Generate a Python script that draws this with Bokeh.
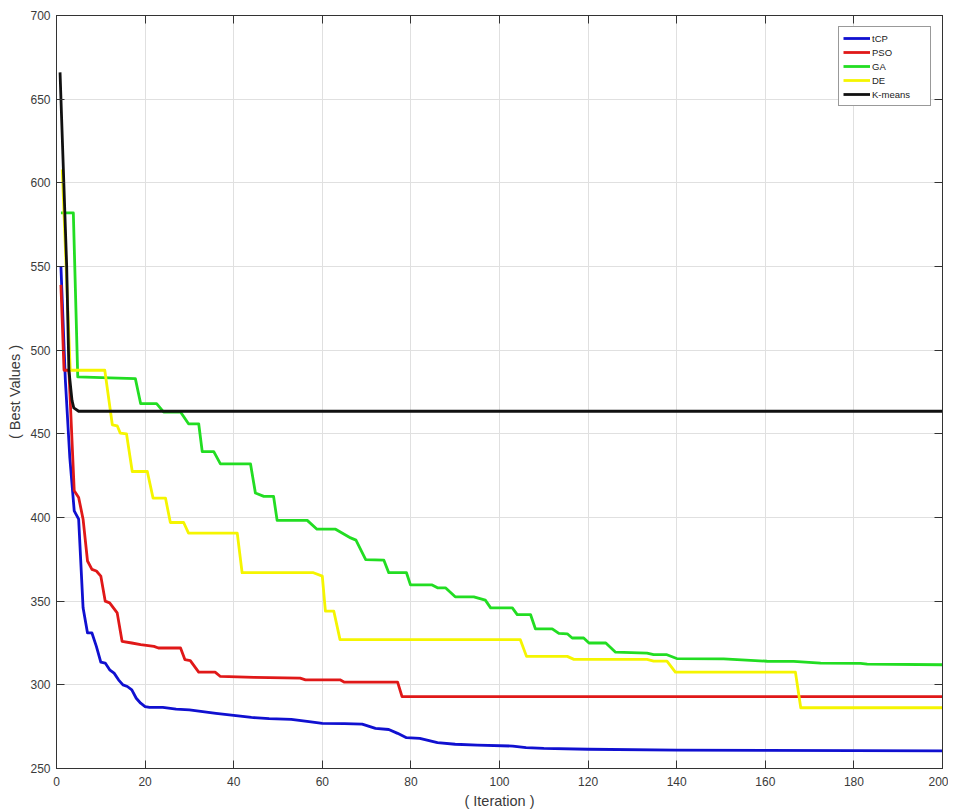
from bokeh.plotting import figure
from bokeh.models import LinearAxis, Legend, LegendItem, FixedTicker, Range1d
from bokeh.embed import file_html
from bokeh.resources import INLINE

# ---------------- data ----------------
x_ticks = [0, 20, 40, 60, 80, 100, 120, 140, 160, 180, 200]
y_ticks = [250, 300, 350, 400, 450, 500, 550, 600, 650, 700]

tcp_x = [1, 2, 3, 4, 5, 6, 7, 8, 9, 10, 11, 12, 13, 14, 15, 16, 17, 18, 19, 20,
         21, 22, 24, 27, 30, 33, 36, 40, 44, 48, 53, 57, 60, 65, 69, 72, 75, 77,
         79, 82, 86, 90, 95, 103, 106, 110, 120, 140, 160, 200]
tcp_y = [550, 482, 436, 404, 399, 346, 331, 331, 323, 313.5, 313, 309, 307, 303,
         300, 299, 297, 292, 289, 287, 286.5, 286.5, 286.5, 285.5, 285, 284, 283,
         281.7, 280.5, 279.8, 279.4, 278, 277, 276.8, 276.5, 274, 273.3, 271,
         268.4, 268, 265.5, 264.5, 264, 263.4, 262.5, 262, 261.5, 261, 260.8, 260.5]

pso_x = [1, 1.7, 2.8, 4, 5, 6, 7, 8, 9, 10, 11, 12, 13.7, 14.8, 17, 19, 22, 23,
         28, 29, 30.2, 32.1, 35.8, 37, 44.6, 55, 56.2, 64, 65, 77, 78, 200]
pso_y = [539, 488, 488, 416, 412, 399, 374, 369, 368, 365, 350, 349, 343, 326,
         325, 324, 323, 322, 322, 315, 314.5, 307.6, 307.6, 305, 304.5, 304, 303,
         303, 301.6, 301.6, 293, 293]

ga_x = [1, 3.8, 4.8, 12, 17.8, 19, 22.6, 24.2, 28, 29.8, 32.1, 32.9, 35.5, 37,
        43.8, 44.9, 46.8, 49, 49.8, 56.6, 58.8, 63, 66.4, 67.6, 69.8, 73.9, 75,
        79, 79.9, 84.8, 86, 87.8, 90, 94.2, 96.8, 98, 102.9, 104, 107, 108.1,
        111.9, 113.4, 115.3, 116.4, 119, 120.2, 124, 126.2, 133.3, 134.8, 137.8,
        140, 150.6, 160.4, 166.4, 172.5, 181.5, 183, 200]
ga_y = [582, 582, 484, 483.5, 483, 468, 468, 463, 463, 456, 456, 439.4, 439.4,
        432, 432, 414.6, 412.6, 412.6, 398.3, 398.3, 393, 393, 387.8, 386.5,
        374.8, 374.5, 367, 367, 359.7, 359.7, 358, 358, 352.6, 352.6, 350.6, 346,
        346, 342, 342, 333.5, 333.5, 330.7, 330.5, 328, 328, 325, 325, 319.5,
        319, 318, 318, 315.7, 315.5, 314.1, 314, 313, 312.8, 312.4, 312]

de_x = [1.3, 3.1, 10.9, 12.6, 13.7, 14.4, 15.8, 17.1, 20.5, 21.8, 24.6, 25.7,
        28.7, 29.8, 40.8, 41.9, 58, 60, 60.7, 62.6, 64, 104.7, 106.1, 115.3,
        116.8, 133.3, 134.8, 137.8, 139.7, 166.8, 168, 200]
de_y = [608, 488, 488, 455.4, 454.8, 450.4, 450, 427.5, 427.5, 411.6, 411.6, 397,
        397, 390.7, 390.7, 367, 367, 365, 344, 344, 327, 327, 317, 317, 315.2,
        315.2, 314.2, 314.2, 307.6, 307.6, 286.3, 286.3]

km_x = [0.8, 2.3, 2.8, 3.5, 3.9, 5, 200]
km_y = [666, 550, 488, 470, 465.5, 463.5, 463.5]

series_names = ["tCP", "PSO", "GA", "DE", "K-means"]
series_colors = ["#1010d0", "#e01818", "#22dd22", "#f5f500", "#111111"]

# ---------------- figure ----------------
FONT = "Liberation Sans"
TXT = "#3a3a3a"
AX = "#333333"

p = figure(width=948, height=811, x_range=Range1d(0, 200), y_range=Range1d(250, 700),
           output_backend="svg", toolbar_location=None,
           min_border_left=56, min_border_right=6, min_border_top=15, min_border_bottom=43)
p.background_fill_color = "white"
p.border_fill_color = "white"
p.outline_line_color = AX
p.outline_line_width = 1

xs = [tcp_x, pso_x, ga_x, de_x, km_x]
ys = [tcp_y, pso_y, ga_y, de_y, km_y]
renderers = []
for x, y, c in zip(xs, ys, series_colors):
    r = p.line(x, y, line_color=c, line_width=2.8, line_join="round")
    renderers.append(r)

for ax, ticks in ((p.xaxis[0], x_ticks), (p.yaxis[0], y_ticks)):
    ax.ticker = FixedTicker(ticks=ticks)
    ax.major_tick_in = 8
    ax.major_tick_out = 0
    ax.minor_tick_line_color = None
    ax.axis_line_color = AX
    ax.major_tick_line_color = AX
    ax.major_label_text_font = FONT
    ax.major_label_text_font_size = "12px"
    ax.major_label_text_color = TXT
    ax.axis_label_text_font = FONT
    ax.axis_label_text_font_size = "14.5px"
    ax.axis_label_text_font_style = "normal"
    ax.axis_label_text_color = TXT

p.xaxis[0].axis_label = "( Iteration )"
p.xaxis[0].major_label_standoff = 8
p.xaxis[0].axis_label_standoff = 4
p.yaxis[0].axis_label = "( Best Values )"
p.yaxis[0].major_label_standoff = 6
p.yaxis[0].axis_label_standoff = 4

# top and right axes: ticks only (MATLAB box style), labels not drawn
for loc, ticks in (("right", y_ticks), ("above", x_ticks)):
    a = LinearAxis(ticker=FixedTicker(ticks=ticks), major_label_text_font_size="1px",
                   major_label_text_color=None, major_label_standoff=0,
                   major_tick_in=8, major_tick_out=0,
                   minor_tick_line_color=None, axis_line_color=AX,
                   major_tick_line_color=AX)
    p.add_layout(a, loc)

p.xgrid.ticker = FixedTicker(ticks=x_ticks)
p.ygrid.ticker = FixedTicker(ticks=y_ticks)
p.xgrid.grid_line_color = "#e0e0e0"
p.ygrid.grid_line_color = "#e0e0e0"

legend = Legend(items=[LegendItem(label=n, renderers=[r]) for n, r in zip(series_names, renderers)],
                location="top_right", margin=11, padding=4, spacing=0,
                glyph_width=27, glyph_height=14, label_height=14, label_width=54,
                label_standoff=2, label_text_font=FONT, label_text_font_size="9.5px",
                label_text_color="#222222", border_line_color=AX, border_line_width=1,
                background_fill_color="white", background_fill_alpha=1)
p.add_layout(legend)

open("out.html", "w").write(file_html(p, INLINE))
